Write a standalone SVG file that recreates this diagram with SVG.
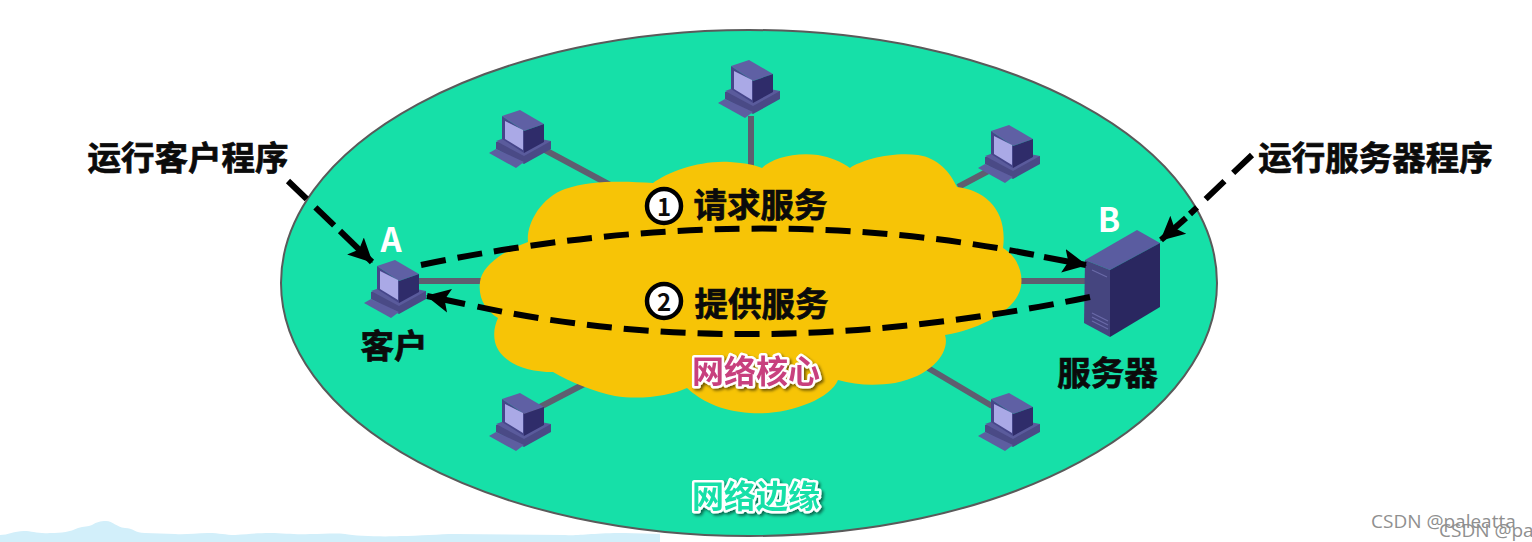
<svg xmlns="http://www.w3.org/2000/svg" width="1532" height="542" viewBox="0 0 1532 542">
<style>
text{font-family:"Noto Sans CJK SC","Noto Sans",sans-serif;font-weight:700;fill:#0b0b0b;text-anchor:middle;dominant-baseline:central}
.blk{stroke:#0b0b0b;stroke-width:.7px}
.lk{stroke:#5e5e70;stroke-width:6;fill:none}
.ds{stroke:#000;stroke-width:6;fill:none;stroke-dasharray:25 12}
.sol{stroke:#000;stroke-width:6;fill:none}
.tag{paint-order:stroke;stroke:#fff;stroke-width:5px;stroke-linejoin:round;filter:url(#sh);font-size:32px}
.wm{font-family:"Open Sans","Liberation Sans",sans-serif;font-weight:400;font-size:19px;fill:#8f8f8f;text-anchor:start;dominant-baseline:auto}
</style>
<defs>
<filter id="sh" x="-10%" y="-20%" width="125%" height="150%"><feDropShadow dx="2" dy="2" stdDeviation="1.5" flood-color="#000" flood-opacity=".55"/></filter>
<marker id="ah" markerUnits="userSpaceOnUse" markerWidth="24" markerHeight="26" refX="23" refY="13" orient="auto"><path d="M0 1L24 13L0 25L5 13Z" fill="#000"/></marker>
<g id="pc">
<path d="M725 92L780 91V99L753 114L725 99Z" fill="#4a4a86"/>
<path d="M725 91L745 84L780 91L753 106Z" fill="#5a5b9c"/>
<path d="M718 103L725 99L753 112L745 118Z" fill="#5d5ea0"/>
<path d="M731 66L749 60L773 74L753 81Z" fill="#5f60a4"/>
<path d="M753 81L773 74V92L753 103Z" fill="#2f2c6a"/>
<path d="M731 66L753 81V103L731 89Z" fill="#46468a"/>
<path d="M734 71L752 80V100L734 89Z" fill="#aaa9e6"/>
</g>
</defs>
<path d="M0 535C8 535 14 531 24 531C32 531 38 534 50 533C62 533 70 532 78 528C84 526 88 527 92 525C97 522 100 521 106 521C113 521 116 527 125 528C133 528 135 533 145 533L175 534C185 535 195 533 208 533C220 533 225 535 235 535C250 534 258 533 270 533C285 533 295 535 310 534C325 534 335 533 345 534C355 536 385 537 400 536C420 536 440 534 455 534L565 535C580 536 590 533 625 533L660 534V542H0Z" fill="#d2effa"/>
<ellipse cx="749" cy="283" rx="468" ry="253" fill="#16e0a8" stroke="#5a5a5a" stroke-width="2"/>
<g id="connectors">
<path class="lk" d="M751 116V175M545 150L612 186M958 187L992 169M515 420L588 382M928 368L992 406M418 281H490M1015 281H1087"/>
</g>
<g id="cloud">
<path d="M528 242C526 225 540 198 565 189C590 180 625 181 653 183C668 172 700 160 730 162C745 163 755 165 762 168C772 158 795 152 818 155C830 157 842 162 850 168C862 160 890 152 918 155C938 158 950 172 957 187C985 190 1008 210 1003 248C1020 258 1026 280 1018 295C1008 315 975 330 945 335C950 350 935 375 895 383C875 386 855 385 838 380C830 400 785 416 750 413C720 411 700 400 687 388C670 396 640 400 615 396C595 392 570 382 553 372C525 372 500 362 495 342C493 332 495 325 498 318C485 310 478 298 480 282C482 265 505 250 528 242Z" fill="#f7c406"/>
<text class="tag" x="756" y="369" style="fill:#c8407e">网络核心</text>
</g>
<g id="pc-top"><use href="#pc"/></g>
<g id="pc-tl"><use href="#pc" x="-229" y="50"/></g>
<g id="pc-tr"><use href="#pc" x="260" y="65"/></g>
<g id="pc-bl"><use href="#pc" x="-229" y="333"/></g>
<g id="pc-br"><use href="#pc" x="260" y="333"/></g>
<g id="client">
<use href="#pc" x="-354" y="200"/>
<text x="391" y="238" style="fill:#fff;font-size:33px">A</text>
<text class="blk" x="394" y="343" font-size="33.500">客户</text>
</g>
<g id="server">
<path d="M1085 260L1137 230L1160 243L1110 270Z" fill="#5a5ca0"/>
<path d="M1110 270L1160 243V307L1110 337Z" fill="#2a2760"/>
<path d="M1085 260L1110 270V337L1084 323Z" fill="#45457f"/>
<path d="M1092 270L1107 277M1092 313L1108 321M1092 317L1108 325M1092 321L1108 329" stroke="#6a6aa8" stroke-width="1.2" fill="none"/>
<text x="1109" y="218" style="fill:#fff;font-size:33px">B</text>
<text class="blk" x="1107.500" y="370" font-size="33.500">服务器</text>
</g>
<g id="arrows">
<path class="ds" d="M421 265Q750 197 1040 256"/>
<path class="sol" d="M1044 257L1086 265" marker-end="url(#ah)"/>
<path class="ds" d="M1090 297Q750 367 470 305"/>
<path class="sol" d="M465 304L427 296" marker-end="url(#ah)"/>
<path class="ds" style="stroke-dasharray:26 12" d="M288 181L340 231"/>
<path class="sol" d="M340 231L372 262" marker-end="url(#ah)"/>
<path class="ds" style="stroke-dasharray:26 12" d="M1252 155L1190 214"/>
<path class="sol" d="M1186 218L1161 240" marker-end="url(#ah)"/>
</g>
<g id="label-req">
<circle cx="664" cy="206" r="17" fill="#fff" stroke="#000" stroke-width="4.500"/>
<text x="664" y="205" font-size="24">1</text>
<text class="blk" x="760.500" y="202" font-size="33.500">请求服务</text>
</g>
<g id="label-resp">
<circle cx="664" cy="301" r="17" fill="#fff" stroke="#000" stroke-width="4.500"/>
<text x="664" y="300" font-size="24">2</text>
<text class="blk" x="761.500" y="301" font-size="33.500">提供服务</text>
</g>
<g id="label-client"><text class="blk" x="188" y="155" font-size="33.500">运行客户程序</text></g>
<g id="label-server"><text class="blk" x="1375.500" y="155" font-size="33.500">运行服务器程序</text></g>
<g id="label-edge"><text class="tag" x="756" y="494" style="fill:#16e0a8">网络边缘</text></g>
<text class="wm" x="1371" y="528">CSDN @paleatta</text>
<text class="wm" x="1439" y="537">CSDN @pa</text>
</svg>
